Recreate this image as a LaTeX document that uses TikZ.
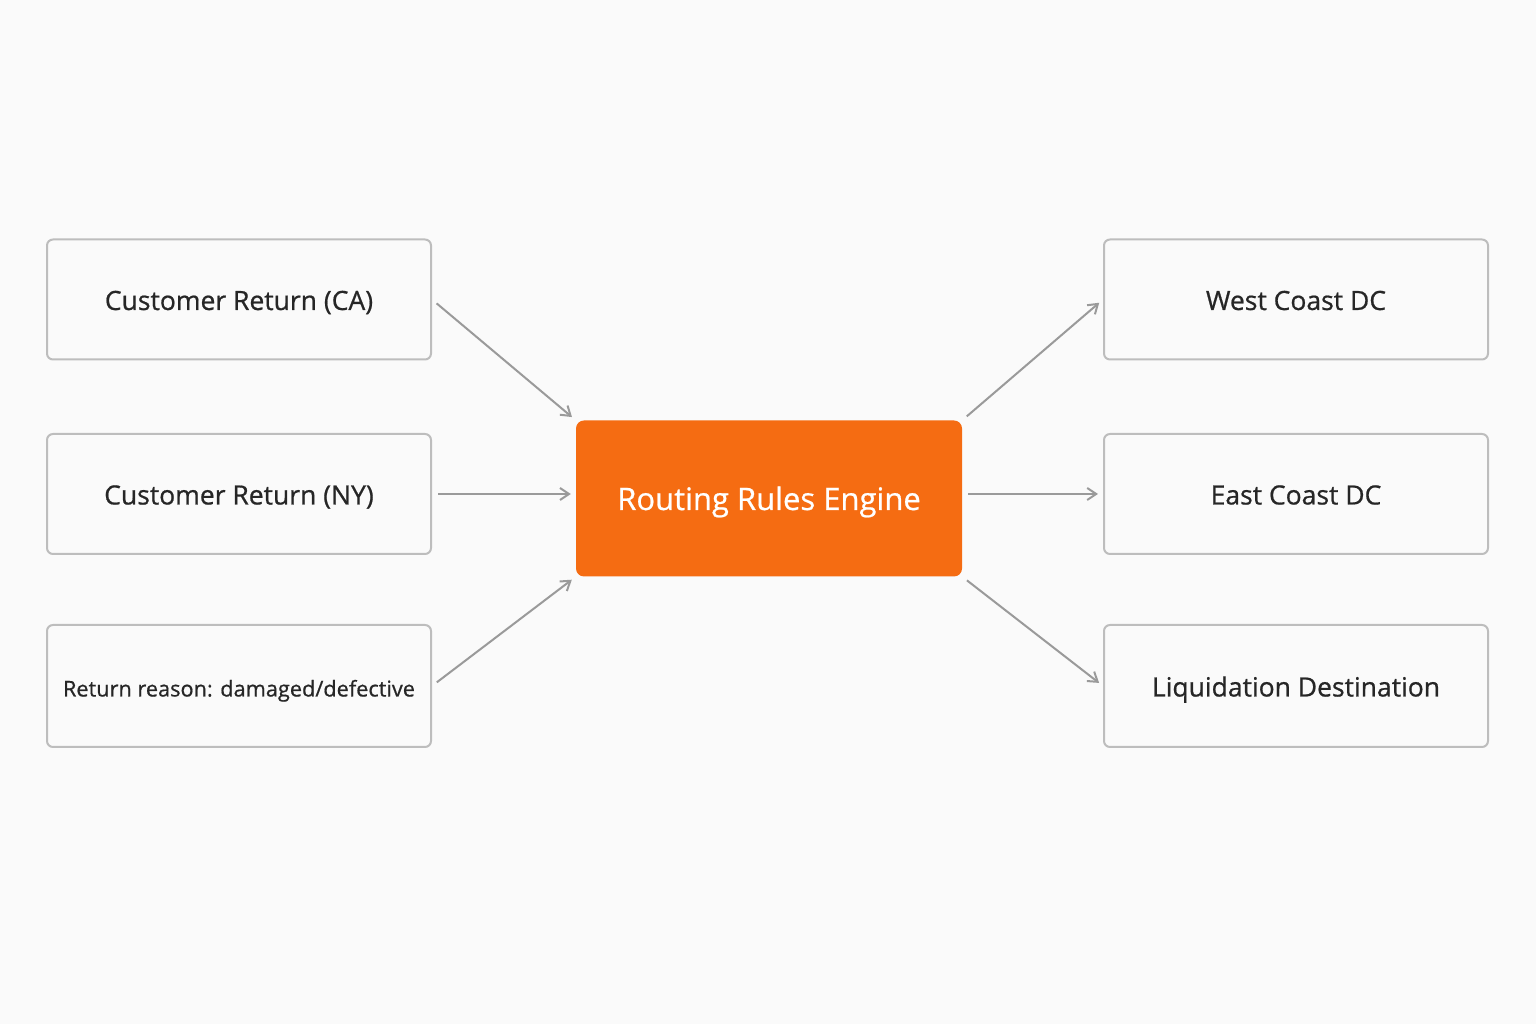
\documentclass[tikz,border=0pt]{standalone}
\usepackage{fontspec}
\setmainfont{Open Sans}[BoldFont=Open Sans,BoldFeatures={FakeBold=0.7}]
\usepackage{graphicx}
\usetikzlibrary{arrows.meta}
\definecolor{bg}{HTML}{FAFAFA}
\definecolor{bord}{HTML}{BDBDBD}
\definecolor{eng}{HTML}{F56C12}
\definecolor{arr}{HTML}{9A9A9A}
\definecolor{txt}{HTML}{262626}
\newcommand{\lowtxt}[1]{\raisebox{-10.5pt}[0pt][0pt]{#1}}
\begin{document}
\begin{tikzpicture}[x=1pt,y=1pt,
  box/.style={draw=bord,line width=2pt,rounded corners=6pt,fill=bg,minimum width=384pt,minimum height=120pt,text=txt,font=\fontsize{26.5}{30}\selectfont\bfseries},
  engbox/.style={fill=eng,rounded corners=8pt,minimum width=386pt,minimum height=156pt,text=white,font=\fontsize{31}{36}\selectfont\bfseries},
  conn/.style={draw=arr,line width=2pt,-{Straight Barb[length=9pt,width=12pt,line width=2pt]},shorten <=6pt,shorten >=5pt}]
\fill[bg] (0,0) rectangle (1536,1024);
\useasboundingbox (0,0) rectangle (1536,1024);
\node[box] (ca) at (239,724.5) {\lowtxt{Customer Return (CA)}};
\node[box] (ny) at (239,530) {\lowtxt{Customer Return (NY)}};
\node[box,minimum height=122pt] (dm) at (239,338) {\lowtxt{\resizebox{352pt}{!}{Return reason: damaged/defective}}};
\node[engbox] (en) at (769,525.5) {\raisebox{-11.5pt}[0pt][0pt]{Routing Rules Engine}};
\node[box] (wc) at (1296,724.5) {\lowtxt{West Coast DC}};
\node[box] (ec) at (1296,530) {\lowtxt{East Coast DC}};
\node[box,minimum height=122pt] (lq) at (1296,338) {\lowtxt{Liquidation Destination}};
\draw[conn] (ca.east) -- (en.north west);
\draw[conn] (ny.east) -- (en.west |- ny.east);
\draw[conn] (dm.east) -- (en.south west);
\draw[conn] (en.north east) -- (wc.west);
\draw[conn] (en.east |- ec.west) -- (ec.west);
\draw[conn] (en.south east) -- (lq.west);
\end{tikzpicture}
\end{document}
